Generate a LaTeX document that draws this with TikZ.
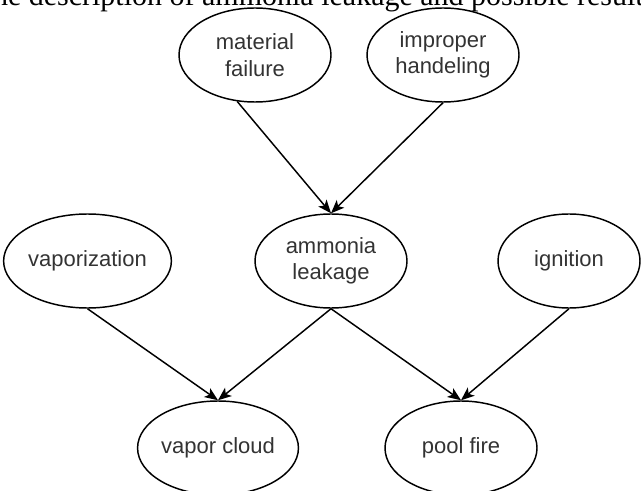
\documentclass[tikz,border=0pt]{standalone}
\usepackage{fontspec}
\setmainfont{Liberation Sans}
\newfontfamily\headserif{Liberation Serif}
\usetikzlibrary{shapes.geometric,arrows.meta}
\tikzset{
  ev/.style={ellipse, draw=black, line width=1.1pt, inner sep=0pt,
    minimum width=114pt, minimum height=70.5pt, align=center,
    text=black!80, font=\fontsize{16.5}{19.8}\selectfont},
  link/.style={draw=black, line width=1.1pt,
    -{Stealth[length=10pt,width=8pt,inset=2.5pt]}}
}
\begin{document}
\begin{tikzpicture}[x=0.75pt,y=-0.75pt]
\useasboundingbox (0,0) rectangle (641,491);
\node[anchor=base, font=\headserif\fontsize{22.5}{27}\selectfont] (head) at (320,6) {the description of ammonia leakage and possible results};
\node[ev] (mf) at (255,55) {material\\failure};
\node[ev] (ih) at (443,55) {improper\\handeling};
\node[ev] (vap) at (87.5,261) {vaporization};
\node[ev] (al) at (331,261) {ammonia\\leakage};
\node[ev, minimum width=106.5pt] (ig) at (569,261) {ignition};
\node[ev] (vc) at (218,448) {vapor cloud};
\node[ev] (pf) at (461,448) {pool fire};
\draw[link] (mf.-111) -- (al.north);
\draw[link] (ih.south) -- (al.north);
\draw[link] (vap.south) -- (vc.north);
\draw[link] (al.south) -- (vc.north);
\draw[link] (al.south) -- (pf.north);
\draw[link] (ig.south) -- (pf.north);
\end{tikzpicture}
\end{document}
